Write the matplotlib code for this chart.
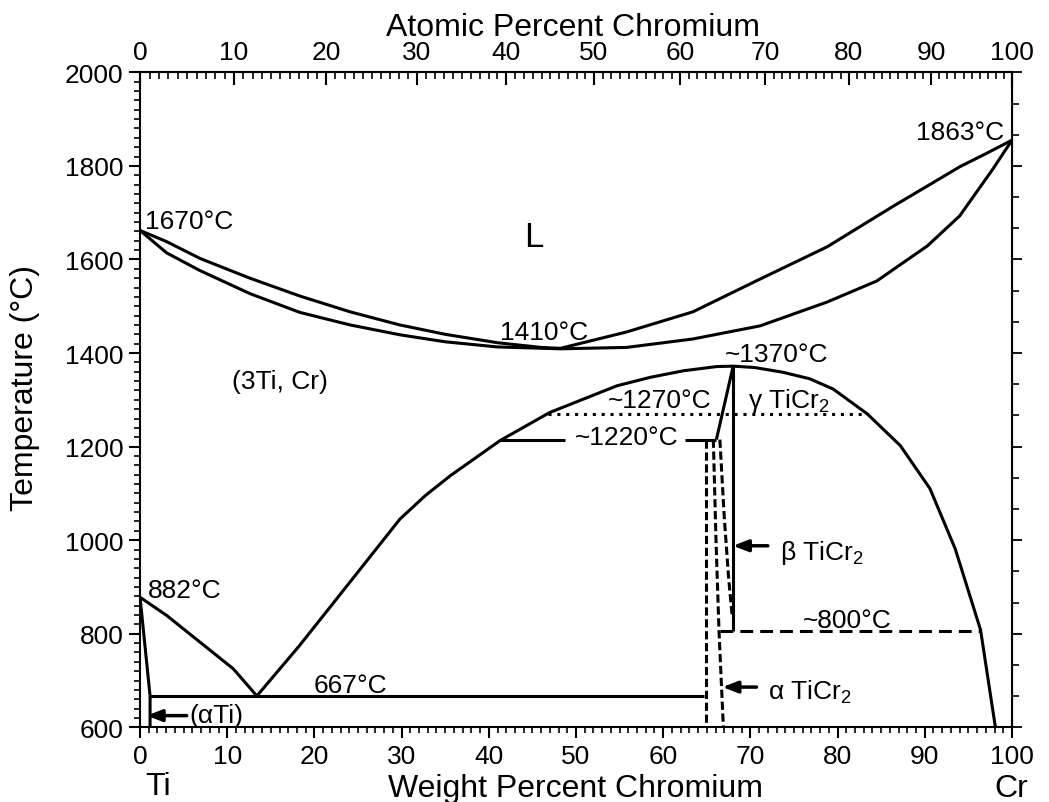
import numpy as np
import matplotlib
matplotlib.use("Agg")
import matplotlib.pyplot as plt
from matplotlib.ticker import MultipleLocator, FixedLocator, NullFormatter

plt.rcParams['font.family'] = ['Liberation Sans', 'DejaVu Sans']
plt.rcParams['mathtext.fontset'] = 'custom'
plt.rcParams['mathtext.rm'] = 'Liberation Sans'
plt.rcParams['mathtext.it'] = 'Liberation Sans:italic'

# ---------------- data (weight % Cr, temperature °C) ----------------
liq_w = [0, 3.06, 6.9, 12.6, 18.3, 24.1, 29.8, 35.0, 41.0, 46.0, 48.2, 55.8, 63.4, 71.1, 78.8, 86.4, 90.3, 94.0, 97.0, 100]
liq_T = [1662, 1638, 1602, 1560, 1522, 1488, 1460, 1440, 1422, 1412, 1410, 1445, 1488, 1558, 1627, 1714, 1757, 1798, 1826, 1855]

sol_w = [0, 3.06, 6.9, 12.6, 18.3, 24.1, 29.8, 35.0, 41.0, 48.2, 55.8, 63.4, 71.1, 78.8, 84.5, 90.3, 94.0, 97.8, 100]
sol_T = [1662, 1614, 1576, 1527, 1487, 1460, 1439, 1424, 1413, 1409, 1412, 1430, 1458, 1509, 1554, 1629, 1693, 1793, 1855]

dome_w = [13.4, 18.3, 24.1, 29.8, 32.7, 35.6, 41.3, 47.0, 54.7, 58.5, 62.3, 66.1, 68.0, 70.5, 73.7, 76.8, 79.5, 83.4, 87.2, 90.6, 93.5, 96.4, 98.1]
dome_T = [667, 775, 911, 1045, 1095, 1138, 1213, 1273, 1330, 1348, 1362, 1371, 1372, 1369, 1359, 1345, 1323, 1270, 1202, 1110, 981, 808, 600]

transus_w = [0, 3.06, 6.88, 10.7, 13.4]
transus_T = [878, 839, 782, 725, 667]

alpha_ti_w = [0, 1.15, 1.15]
alpha_ti_T = [878, 667, 600]

eutectoid_w = [1.15, 64.7]
eutectoid_T = [667, 667]

l1220_left_w = [41.3, 48.7]
l1220_right_w = [62.5, 66.1]
l1220_T = [1215, 1215]

gamma_w = [66.1, 68.0]
gamma_T = [1215, 1370]

beta_vert_w = [67.95, 67.95]
beta_vert_T = [1372, 805]

l800_w = [66.5, 96.4]
l800_T = [805, 805]

l1270_w = [46.8, 83.4]
l1270_T = [1270, 1270]

d1_w = [64.9, 64.9]
d1_T = [1215, 600]
d2_w = [65.75, 66.05, 66.4, 66.9]
d2_T = [1215, 1003, 806, 600]
d3_w = [66.5, 67.0, 67.5, 67.9]
d3_T = [1215, 1050, 920, 840]

top_ticks = [0, 10, 20, 30, 40, 50, 60, 70, 80, 90, 100]
bottom_ticks = [0, 10, 20, 30, 40, 50, 60, 70, 80, 90, 100]
y_ticks = [600, 800, 1000, 1200, 1400, 1600, 1800, 2000]

# ---------------- figure ----------------
fig = plt.figure(figsize=(10.49, 8.03), dpi=100)
ax = fig.add_axes([0.1335, 0.0930, 0.8312, 0.8157])
ax.set_xlim(0, 100)
ax.set_ylim(600, 2000)

LW = 2.2
k = dict(color='black', lw=LW, solid_capstyle='butt', solid_joinstyle='round')
ax.plot(liq_w, liq_T, **k)
ax.plot(sol_w, sol_T, **k)
ax.plot(dome_w, dome_T, **k)
ax.plot(transus_w, transus_T, **k)
ax.plot(alpha_ti_w, alpha_ti_T, **k)
ax.plot(eutectoid_w, eutectoid_T, **k)
ax.plot(l1220_left_w, l1220_T, **k)
ax.plot(l1220_right_w, l1220_T, **k)
ax.plot(gamma_w, gamma_T, **k)
ax.plot(beta_vert_w, beta_vert_T, **k)
ax.plot(l800_w, l800_T, color='black', lw=LW, linestyle=(0, (4.2, 2.3)))
ax.plot(l1270_w, l1270_T, color='black', lw=LW, linestyle=(0, (1, 1.9)))
for dw, dT in [(d1_w, d1_T), (d2_w, d2_T), (d3_w, d3_T)]:
    ax.plot(dw, dT, color='black', lw=LW, linestyle=(0, (2.7, 1.2)))

# arrows
ap = dict(arrowstyle='-|>,head_length=0.9,head_width=0.35', color='black', lw=2.5, shrinkA=0, shrinkB=0)
ax.annotate('', xy=(0.77, 625), xytext=(5.35, 625), arrowprops=ap)
ax.annotate('', xy=(68.0, 988), xytext=(72.0, 988), arrowprops=ap)
ax.annotate('', xy=(66.8, 686), xytext=(70.7, 686), arrowprops=ap)

# annotations
fs = 19
ax.text(0.6, 1668, '1670°C', fontsize=fs, ha='left', va='baseline')
ax.text(45.2, 1629, 'L', fontsize=25, ha='center', va='baseline')
ax.text(41.3, 1430, '1410°C', fontsize=fs, ha='left', va='baseline')
ax.text(99.1, 1857, '1863°C', fontsize=fs, ha='right', va='baseline')
ax.text(10.6, 1325, '(3Ti, Cr)', fontsize=fs, ha='left', va='baseline')
ax.text(67.1, 1383, '~1370°C', fontsize=fs, ha='left', va='baseline')
ax.text(53.6, 1284, '~1270°C', fontsize=fs, ha='left', va='baseline')
ax.text(69.7, 1284, 'γ TiCr$_2$', fontsize=fs, ha='left', va='baseline')
ax.text(49.9, 1206, '~1220°C', fontsize=fs, ha='left', va='baseline')
ax.text(73.4, 960, 'β TiCr$_2$', fontsize=fs, ha='left', va='baseline')
ax.text(76.0, 815, '~800°C', fontsize=fs, ha='left', va='baseline')
ax.text(72.0, 661, 'α TiCr$_2$', fontsize=fs, ha='left', va='baseline')
ax.text(0.9, 879, '882°C', fontsize=fs, ha='left', va='baseline')
ax.text(19.9, 676, '667°C', fontsize=fs, ha='left', va='baseline')
ax.text(5.7, 611, '(αTi)', fontsize=fs, ha='left', va='baseline')

# ---------------- axes styling ----------------
for s in ax.spines.values():
    s.set_linewidth(1.5)

ax.set_xticks(bottom_ticks)
ax.set_xticklabels([str(t) for t in bottom_ticks])
ax.xaxis.set_minor_locator(MultipleLocator(1))
ax.set_yticks(y_ticks)
ax.set_yticklabels([str(t) for t in y_ticks])
ax.yaxis.set_minor_locator(MultipleLocator(20))
ax.tick_params(axis='both', which='major', direction='out', length=8, width=1.5, labelsize=19, pad=4)
ax.tick_params(axis='both', which='minor', direction='out', length=4, width=1.2)
ax.tick_params(top=False, right=False)

# top: atomic percent
def w2a(w):
    w = np.asarray(w, dtype=float)
    with np.errstate(divide='ignore', invalid='ignore'):
        a = 100 * (w / 52.0) / (w / 52.0 + (100 - w) / 47.87)
    return a

def a2w(a):
    a = np.asarray(a, dtype=float)
    with np.errstate(divide='ignore', invalid='ignore'):
        w = 100 * 52.0 * a / (52.0 * a + 47.87 * (100 - a))
    return w

top = ax.secondary_xaxis('top', functions=(w2a, a2w))
top.set_xticks(top_ticks)
top.set_xticklabels([str(t) for t in top_ticks])
top.xaxis.set_minor_locator(FixedLocator(np.arange(0, 101, 1)))
top.tick_params(which='major', direction='in', length=9, width=1.5, labelsize=19, pad=6)
top.tick_params(which='minor', direction='in', length=5, width=1.2)
top.spines['top'].set_linewidth(1.5)

# right: unlabeled ticks
right = ax.secondary_yaxis('right')
right.yaxis.set_major_locator(MultipleLocator(200))
right.yaxis.set_minor_locator(MultipleLocator(200 / 3))
right.yaxis.set_major_formatter(NullFormatter())
right.tick_params(which='major', direction='out', length=7, width=1.3)
right.tick_params(which='minor', direction='out', length=5, width=1.2)

# axis titles
fig.text(0.546, 0.955, 'Atomic Percent Chromium', fontsize=23, ha='center', va='baseline')
fig.text(0.549, 0.0075, 'Weight Percent Chromium', fontsize=23, ha='center', va='baseline')
fig.text(0.024, 0.517, 'Temperature (°C)', fontsize=23, rotation=90, ha='center', va='center')
fig.text(0.138, 0.0100, 'Ti', fontsize=23, ha='left', va='baseline')
fig.text(0.964, 0.0075, 'Cr', fontsize=23, ha='center', va='baseline')

fig.savefig('out.png', dpi=100)
